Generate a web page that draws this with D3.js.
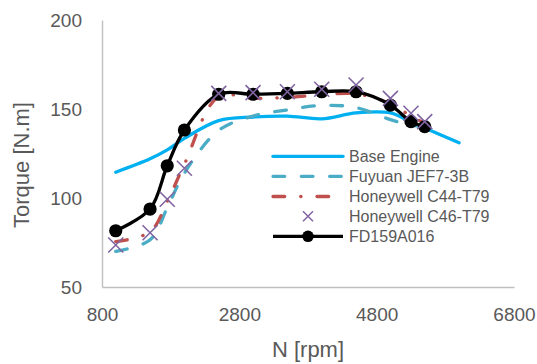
<!DOCTYPE html>
<html>
<head>
<meta charset="utf-8">
<script src="https://cdn.jsdelivr.net/npm/d3@7"></script>
<style>
  html, body { margin: 0; padding: 0; background: #fff; }
  svg { display: block; font-family: "Liberation Sans", Arial, sans-serif; }
</style>
</head>
<body>
<svg id="chart" width="537" height="364"></svg>
<script>
// Engine speed points (rpm)
const speeds = [1000, 1500, 1750, 2000, 2500, 3000, 3500, 4000, 4500, 5000, 5300, 5500];
const baseSpeeds = [1000, 1500, 1750, 2000, 2500, 3000, 3500, 4000, 4500, 5000, 5300, 5500, 6000];

// Torque per configuration (N.m)
const baseEngine   = [114.5, 122, 127, 133.5, 143.5, 145.5, 146, 144.5, 147.8, 147.8, 142.7, 139.3, 131];
const fuyuan       = [70, 76.5, 94.5, 114, 138, 146, 149.5, 152, 150.8, 144, 141, 140];
const honeywellC44 = [75.5, 81, 98, 119, 157, 156, 156.5, 158, 158.5, 153, 146, 142];
const honeywellC46 = [73.6, 80.5, 99.3, 116.7, 158.8, 159.2, 159.7, 161.1, 163.5, 156, 147.6, 142.9];
const fd159        = [81.6, 93.8, 118.1, 138.2, 158.3, 158.3, 158.8, 159.7, 159.7, 152.2, 142.9, 140.1];

const seriesNames = ["Base Engine", "Fuyuan JEF7-3B", "Honeywell C44-T79", "Honeywell C46-T79", "FD159A016"];

// Axis ticks
const xTicks = [800, 2800, 4800, 6800];
const yTicks = [50, 100, 150, 200];

const svg = d3.select("#chart");
const textColor = "#595959";
const axisColor = "#BFBFBF";

const x = d3.scaleLinear().domain([800, 6800]).range([102, 514]);
const y = d3.scaleLinear().domain([50, 200]).range([287, 20]);

// Axes
const yAxis = svg.append("g")
  .attr("transform", `translate(${x(800)},0)`)
  .call(d3.axisLeft(y).tickValues(yTicks).tickFormat(d3.format("d"))
    .tickSize(0).tickSizeOuter(0).tickPadding(20));
const xAxis = svg.append("g")
  .attr("transform", `translate(0,${y(50)})`)
  .call(d3.axisBottom(x).tickValues(xTicks).tickFormat(d3.format("d"))
    .tickSize(0).tickSizeOuter(0).tickPadding(21));

[yAxis, xAxis].forEach(g => {
  g.select(".domain").attr("stroke", axisColor).attr("stroke-width", 1.4);
  g.selectAll("text")
    .attr("fill", textColor)
    .style("font-size", "19px")
    .style("font-family", "'Liberation Sans', Arial, sans-serif");
});

// Axis titles
svg.append("text")
  .attr("transform", `translate(29,165) rotate(-90)`)
  .attr("text-anchor", "middle")
  .attr("fill", textColor)
  .style("font-size", "22px")
  .text("Torque [N.m]");

svg.append("text")
  .attr("x", 308).attr("y", 357)
  .attr("text-anchor", "middle")
  .attr("fill", textColor)
  .style("font-size", "22px")
  .text("N [rpm]");

const line = d3.line()
  .x(d => x(d[0]))
  .y(d => y(d[1]))
  .curve(d3.curveCatmullRom.alpha(0.5));

const zip = (xs, ys) => xs.map((v, i) => [v, ys[i]]);

const plot = svg.append("g");

// Base engine
plot.append("path")
  .datum(zip(baseSpeeds, baseEngine))
  .attr("d", line)
  .attr("fill", "none")
  .attr("stroke", "#00B0F0")
  .attr("stroke-width", 3.3)
  .attr("stroke-linecap", "round");

// Fuyuan JEF7-3B (dashed)
const dashTeal = "11.7,16.6";
plot.append("path")
  .datum(zip(speeds, fuyuan))
  .attr("d", line)
  .attr("fill", "none")
  .attr("stroke", "#4BACC6")
  .attr("stroke-width", 3.3)
  .attr("stroke-linecap", "round")
  .attr("stroke-dasharray", dashTeal);

// Honeywell C44-T79 (dash-dot)
const dashRed = "11.7,16,0.3,16";
plot.append("path")
  .datum(zip(speeds, honeywellC44))
  .attr("d", line)
  .attr("fill", "none")
  .attr("stroke", "#C0504D")
  .attr("stroke-width", 3.3)
  .attr("stroke-linecap", "round")
  .attr("stroke-dasharray", dashRed);

// FD159A016 (line with circle markers)
plot.append("path")
  .datum(zip(speeds, fd159))
  .attr("d", line)
  .attr("fill", "none")
  .attr("stroke", "#000")
  .attr("stroke-width", 3.3);
plot.selectAll("circle.fd")
  .data(zip(speeds, fd159))
  .join("circle")
  .attr("class", "fd")
  .attr("cx", d => x(d[0]))
  .attr("cy", d => y(d[1]))
  .attr("r", 6.6)
  .attr("fill", "#000");

// Honeywell C46-T79 (markers only)
const xMark = (cx, cy, h) => `M${cx - h},${cy - h}L${cx + h},${cy + h}M${cx - h},${cy + h}L${cx + h},${cy - h}`;
plot.selectAll("path.c46")
  .data(zip(speeds, honeywellC46))
  .join("path")
  .attr("class", "c46")
  .attr("d", d => xMark(x(d[0]), y(d[1]), 7.5))
  .attr("stroke", "#8064A2")
  .attr("stroke-width", 1.6)
  .attr("fill", "none");

// Legend
const legend = svg.append("g");
const rows = [156.3, 176.3, 196.5, 216.3, 236.3];
const lx0 = 273, lx1 = 343, ltx = 349;
const styles = [
  { stroke: "#00B0F0", dash: null },
  { stroke: "#4BACC6", dash: dashTeal },
  { stroke: "#C0504D", dash: dashRed },
  { stroke: null, dash: null },
  { stroke: "#000", dash: null }
];
seriesNames.forEach((name, i) => {
  const st = styles[i];
  const yy = rows[i];
  if (st.stroke) {
    legend.append("line")
      .attr("x1", lx0).attr("x2", lx1).attr("y1", yy).attr("y2", yy)
      .attr("stroke", st.stroke)
      .attr("stroke-width", 3.3)
      .attr("stroke-linecap", i === 4 ? "butt" : "round")
      .attr("stroke-dasharray", st.dash);
  }
  if (i === 3) {
    legend.append("path")
      .attr("d", xMark((lx0 + lx1) / 2, yy, 5))
      .attr("stroke", "#8064A2")
      .attr("stroke-width", 1.5)
      .attr("fill", "none");
  }
  if (i === 4) {
    legend.append("circle")
      .attr("cx", (lx0 + lx1) / 2).attr("cy", yy).attr("r", 5.8)
      .attr("fill", "#000");
  }
  legend.append("text")
    .attr("x", ltx).attr("y", yy)
    .attr("dy", "0.35em")
    .attr("fill", textColor)
    .style("font-size", "16px")
    .text(name);
});
</script>
</body>
</html>
